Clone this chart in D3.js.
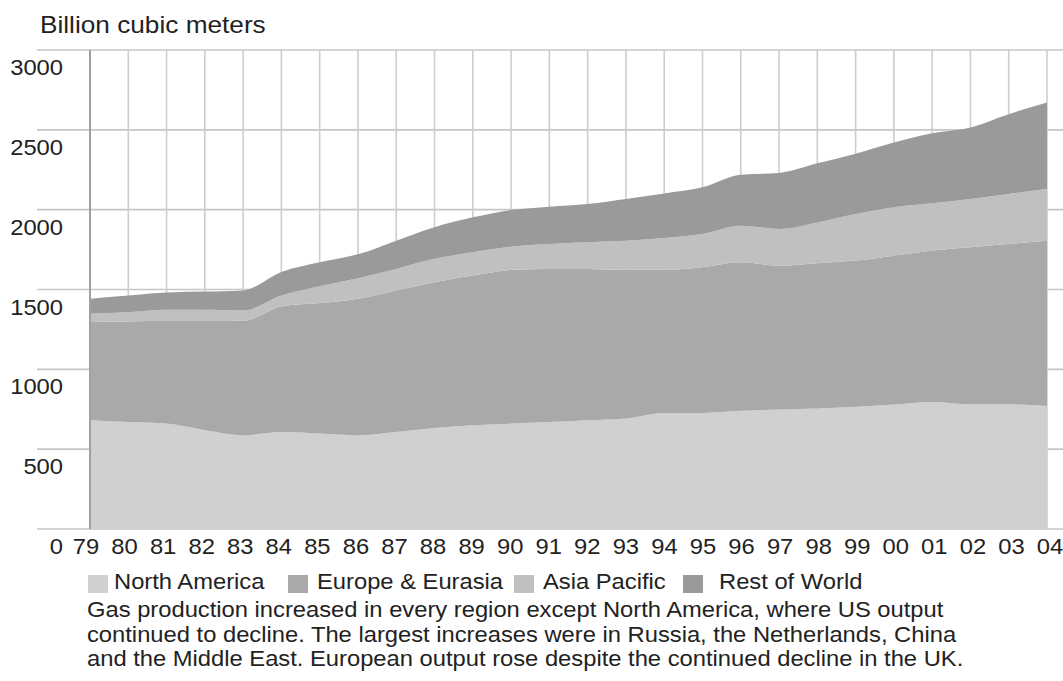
<!DOCTYPE html>
<html>
<head>
<meta charset="utf-8">
<script src="https://cdn.jsdelivr.net/npm/d3@7"></script>
<style>
  html, body { margin: 0; padding: 0; background: #fff; }
  svg { display: block; }
  text { font-family: "Liberation Sans", Arial, Helvetica, sans-serif; fill: #222; }
</style>
</head>
<body>
<svg id="chart" width="1063" height="681"></svg>
<script>
// ---- data ----
const years = [1979,1980,1981,1982,1983,1984,1985,1986,1987,1988,1989,1990,1991,1992,1993,1994,1995,1996,1997,1998,1999,2000,2001,2002,2003,2004];
const yearLabels = ["79","80","81","82","83","84","85","86","87","88","89","90","91","92","93","94","95","96","97","98","99","00","01","02","03","04"];
const northAmerica = [681,670,660,619,587,608,598,587,608,633,650,660,670,681,692,727,727,740,748,754,765,779,796,781,781,771];
const europeEurasia = [615,630,642,683,717,786,817,855,886,913,937,963,959,948,931,896,913,931,902,911,916,933,948,984,1004,1035];
const asiaPacific = [52,58,71,71,64,68,105,128,135,146,146,146,156,167,183,200,208,229,229,255,292,303,296,302,313,323];
const restOfWorld = [94,104,108,114,126,148,150,150,177,198,219,229,234,239,261,279,292,319,351,370,377,405,438,448,500,542];
const seriesNames = ["North America","Europe & Eurasia","Asia Pacific","Rest of World"];
const seriesColors = ["#d0d0d0","#a9a9a9","#c0c0c0","#9a9a9a"];
const yTicks = [0,500,1000,1500,2000,2500,3000];
const yTickLabels = ["0","500","1000","1500","2000","2500","3000"];
const captionLines = [
  "Gas production increased in every region except North America, where US output",
  "continued to decline. The largest increases were in Russia, the Netherlands, China",
  "and the Middle East. European output rose despite the continued decline in the UK."
];

// ---- build ----
const table = years.map((yr, i) => ({
  year: yr,
  "North America": northAmerica[i],
  "Europe & Eurasia": europeEurasia[i],
  "Asia Pacific": asiaPacific[i],
  "Rest of World": restOfWorld[i]
}));

const svg = d3.select("#chart");
const x = d3.scaleLinear().domain([1979, 2004]).range([90, 1047]);
const xLab = d3.scaleLinear().domain([1979, 2004]).range([86, 1050]);
const y = d3.scaleLinear().domain([0, 3000]).range([529, 50]);

const SX = 1.08; // horizontal stretch of the lettering
function label(g, tx, ty, str, size, anchor, sx) {
  return g.append("text")
    .attr("transform", `translate(${tx},${ty}) scale(${sx || SX},1)`)
    .attr("font-size", size)
    .attr("text-anchor", anchor || "start")
    .text(str);
}

// horizontal gridlines
svg.append("g").selectAll("line").data(yTicks).join("line")
  .attr("x1", 37).attr("x2", 1063)
  .attr("y1", d => y(d)).attr("y2", d => y(d))
  .attr("stroke", "#c6c6c6").attr("stroke-width", 1.6);

// vertical gridlines
svg.append("g").selectAll("line").data(years).join("line")
  .attr("x1", d => x(d)).attr("x2", d => x(d))
  .attr("y1", y(3000)).attr("y2", y(0))
  .attr("stroke", "#cdcdcd").attr("stroke-width", 1.6);

// stacked areas
const stack = d3.stack().keys(seriesNames);
const layers = stack(table);
const area = d3.area()
  .x(d => x(d.data.year))
  .y0(d => y(d[0]))
  .y1(d => y(d[1]))
  .curve(d3.curveMonotoneX);
svg.append("g").selectAll("path").data(layers).join("path")
  .attr("d", area)
  .attr("fill", (d, i) => seriesColors[i]);

// left axis line
svg.append("line")
  .attr("x1", x(1979)).attr("x2", x(1979))
  .attr("y1", y(3000)).attr("y2", y(0))
  .attr("stroke", "#a0a0a0").attr("stroke-width", 2);

// title
label(svg, 40, 33, "Billion cubic meters", 24.5, "start", 1.07);

// y tick labels
const gy = svg.append("g");
yTicks.forEach((v, i) => label(gy, 63, y(v) + 25, yTickLabels[i], 22, "end"));

// x tick labels
const gx = svg.append("g");
years.forEach((yr, i) => label(gx, xLab(yr), 554, yearLabels[i], 22, "middle"));

// legend
const legendSq = [88, 288, 514, 683];
const legendTx = [114, 317, 543, 719];
const lg = svg.append("g");
seriesNames.forEach((name, i) => {
  lg.append("rect").attr("x", legendSq[i]).attr("y", 575)
    .attr("width", 20).attr("height", 18).attr("fill", seriesColors[i]);
  label(lg, legendTx[i], 589, name, 22, "start");
});

// caption
const gc = svg.append("g");
captionLines.forEach((line, i) => label(gc, 87, 617 + i * 24.5, line, 22, "start"));
</script>
</body>
</html>
